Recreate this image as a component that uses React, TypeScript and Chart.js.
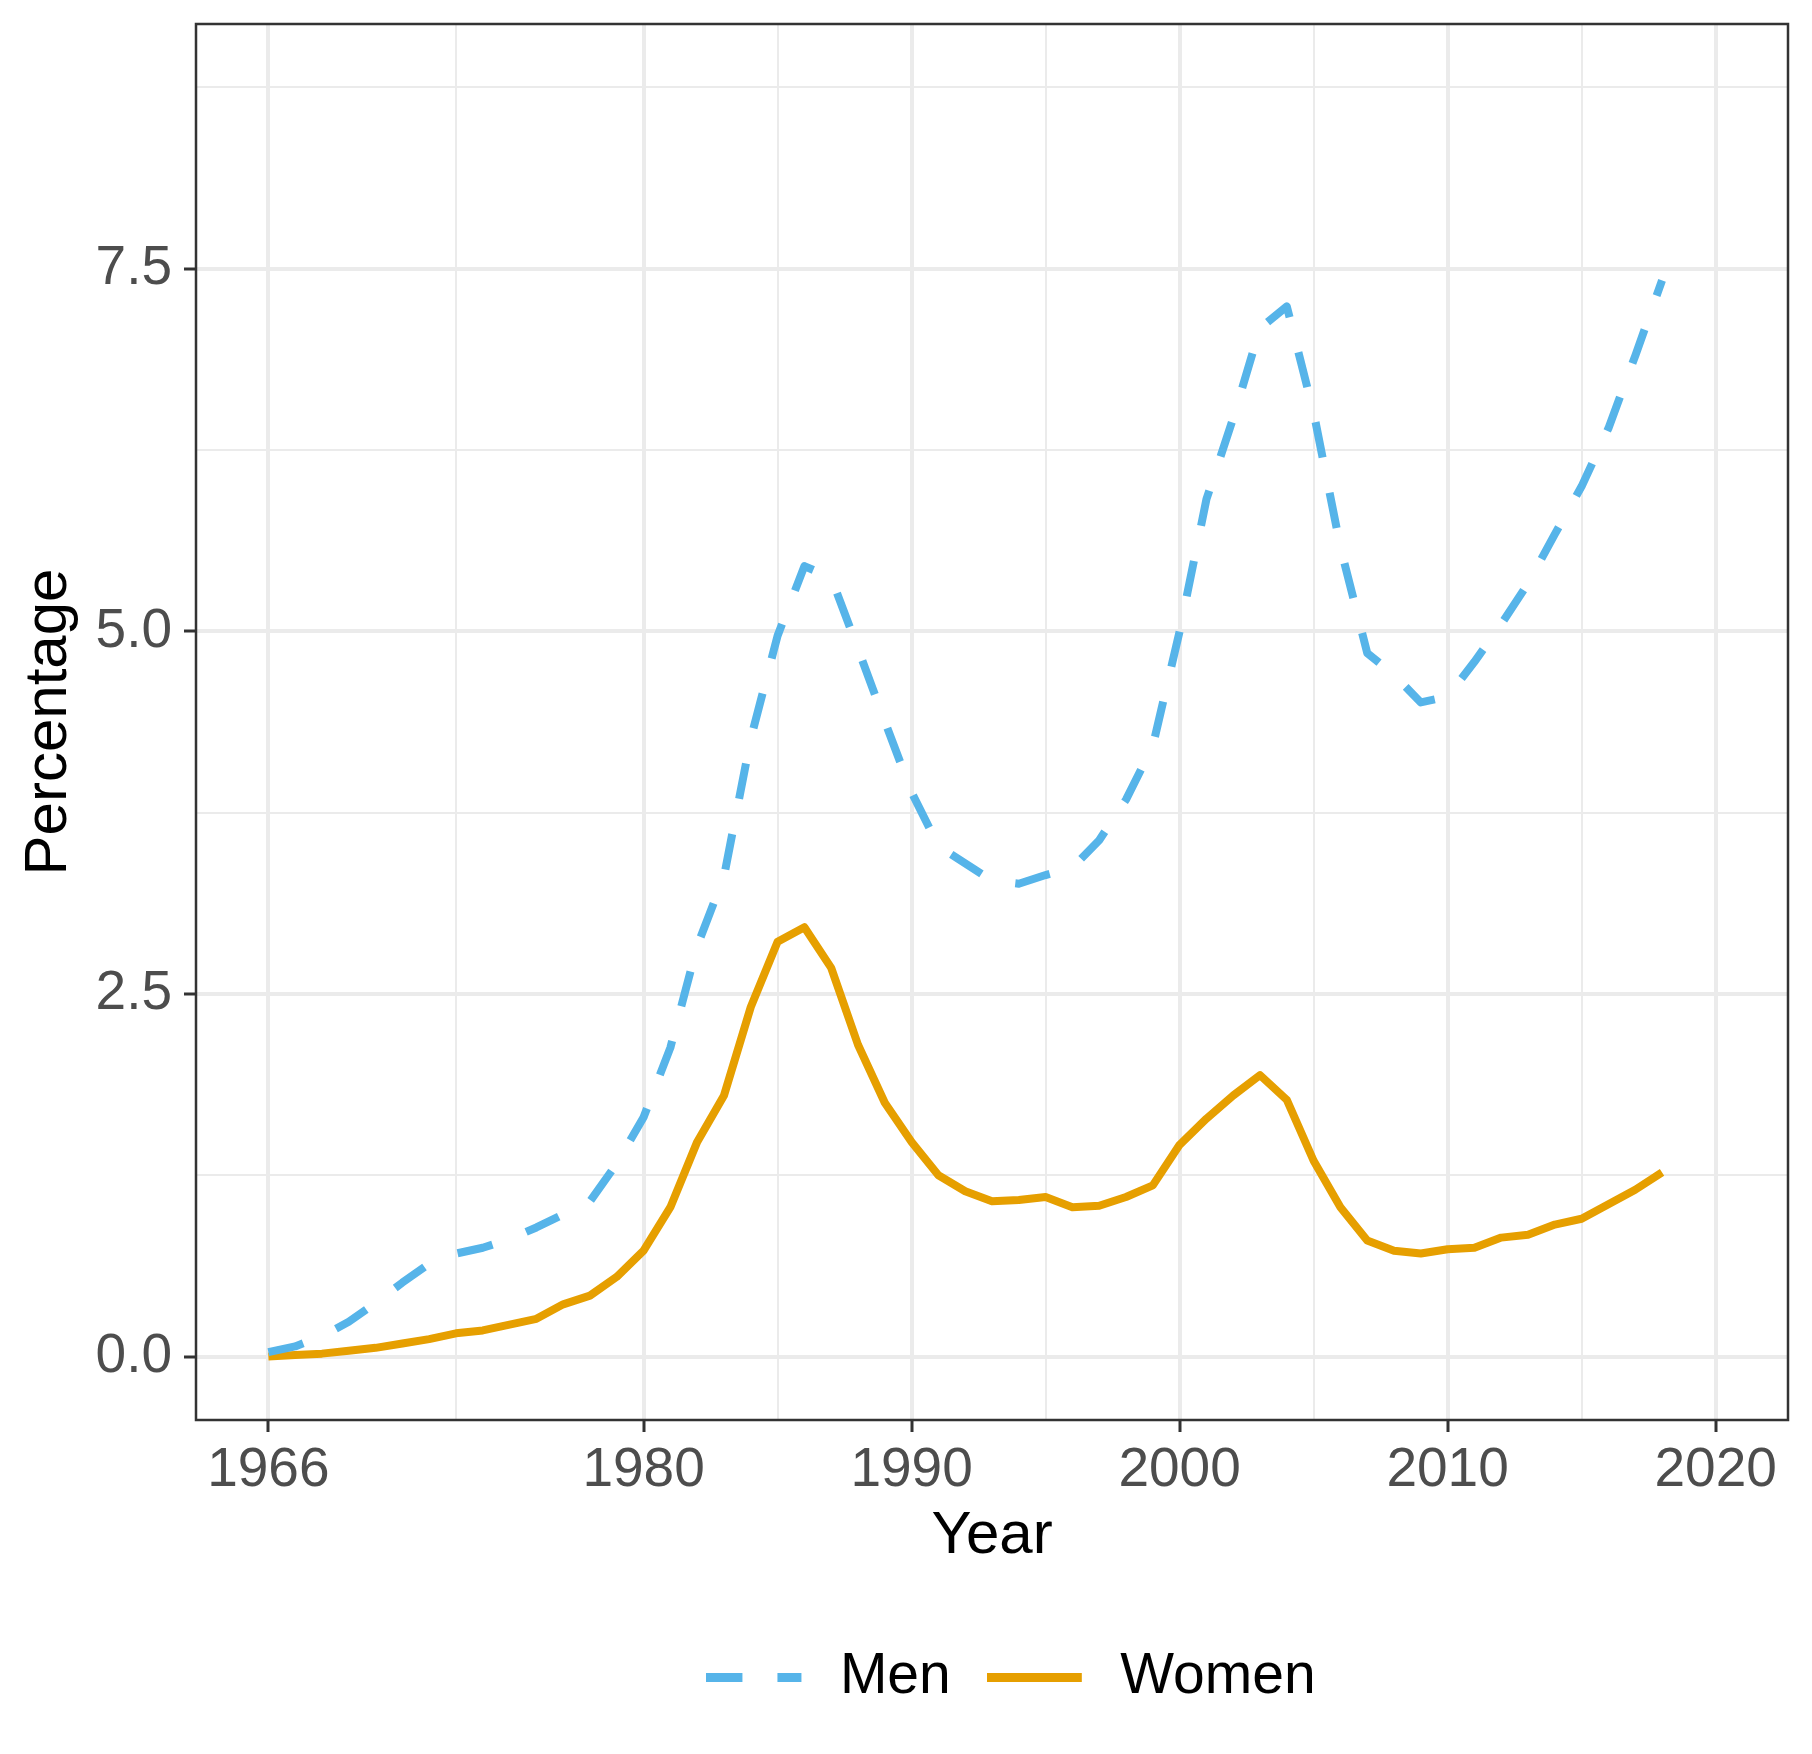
import { useEffect, useRef } from 'react';
import { Chart, registerables, type ChartConfiguration, type Plugin } from 'chart.js';

Chart.register(...registerables);

const years = [
  1966, 1967, 1968, 1969, 1970, 1971, 1972, 1973, 1974, 1975,
  1976, 1977, 1978, 1979, 1980, 1981, 1982, 1983, 1984, 1985,
  1986, 1987, 1988, 1989, 1990, 1991, 1992, 1993, 1994, 1995,
  1996, 1997, 1998, 1999, 2000, 2001, 2002, 2003, 2004, 2005,
  2006, 2007, 2008, 2009, 2010, 2011, 2012, 2013, 2014, 2015,
  2016, 2017, 2018,
];

const men = [
  0.03, 0.07, 0.14, 0.24, 0.37, 0.51, 0.64, 0.71, 0.75, 0.81,
  0.89, 0.98, 1.07, 1.33, 1.65, 2.13, 2.83, 3.31, 4.26, 4.97,
  5.45, 5.37, 4.88, 4.38, 3.89, 3.52, 3.40, 3.28, 3.26, 3.32,
  3.37, 3.56, 3.84, 4.21, 5.00, 5.91, 6.47, 7.09, 7.24, 6.51,
  5.58, 4.85, 4.70, 4.51, 4.55, 4.79, 5.05, 5.33, 5.67, 6.00,
  6.40, 6.90, 7.42,
];

const women = [
  0.00, 0.01, 0.02, 0.04, 0.06, 0.09, 0.12, 0.16, 0.18, 0.22,
  0.26, 0.36, 0.42, 0.55, 0.73, 1.03, 1.48, 1.80, 2.41, 2.86,
  2.96, 2.68, 2.15, 1.75, 1.48, 1.25, 1.14, 1.07, 1.08, 1.10,
  1.03, 1.04, 1.10, 1.18, 1.46, 1.64, 1.80, 1.94, 1.77, 1.35,
  1.03, 0.80, 0.73, 0.71, 0.74, 0.75, 0.82, 0.84, 0.91, 0.95,
  1.05, 1.15, 1.27,
];

// major breaks get a label, minor ones only a thin grid line
const xMajor = [1966, 1980, 1990, 2000, 2010, 2020];
const xMinor = [1973, 1985, 1995, 2005, 2015];
const yMajor = [0, 2.5, 5, 7.5];
const yMinor = [1.25, 3.75, 6.25, 8.75];

const FONT = "'Liberation Sans', Arial, Helvetica, sans-serif";
const MEN_COLOR = '#56B4E9';
const WOMEN_COLOR = '#E69F00';
const DASH = [36, 36];

const KEY_LEN = 95;
const KEY_BOX = 105; // key plus a bit of extra space before the label

// legend key drawn as a little line image (chart.js ignores dashes for 'line' point styles)
function legendKey(color: string, dash: number[]) {
  const c = document.createElement('canvas');
  c.width = KEY_BOX;
  c.height = 9;
  const ctx = c.getContext('2d');
  if (ctx) {
    ctx.strokeStyle = color;
    ctx.lineWidth = 9;
    ctx.setLineDash(dash);
    ctx.beginPath();
    ctx.moveTo(0, 4.5);
    ctx.lineTo(KEY_LEN, 4.5);
    ctx.stroke();
  }
  return c;
}

const panelBorder: Plugin<'line'> = {
  id: 'panelBorder',
  afterLayout(chart) {
    // nudge the legend row to where ggplot put it
    if (chart.legend) {
      chart.legend.left += 19;
      chart.legend.right += 19;
    }
  },
  afterDatasetsDraw(chart) {
    const { ctx, chartArea } = chart;
    ctx.save();
    ctx.strokeStyle = '#333333';
    ctx.lineWidth = 2.5;
    ctx.strokeRect(chartArea.left, chartArea.top, chartArea.right - chartArea.left, chartArea.bottom - chartArea.top);
    ctx.restore();
  },
};

const isMinor = (list: number[], v: number) => list.some((m) => Math.abs(m - v) < 1e-6);

export default function App() {
  const canvasRef = useRef<HTMLCanvasElement | null>(null);

  useEffect(() => {
    if (!canvasRef.current) return;

    const config: ChartConfiguration<'line'> = {
      type: 'line',
      data: {
        datasets: [
          {
            label: 'Men',
            data: years.map((x, i) => ({ x, y: men[i] })),
            borderColor: MEN_COLOR,
            backgroundColor: MEN_COLOR,
            borderWidth: 8,
            borderDash: DASH,
            borderJoinStyle: 'round',
            pointRadius: 0,
            pointStyle: legendKey(MEN_COLOR, [36, 35]),
            tension: 0,
          },
          {
            label: 'Women',
            data: years.map((x, i) => ({ x, y: women[i] })),
            borderColor: WOMEN_COLOR,
            backgroundColor: WOMEN_COLOR,
            borderWidth: 8,
            borderJoinStyle: 'round',
            pointRadius: 0,
            pointStyle: legendKey(WOMEN_COLOR, []),
            tension: 0,
          },
        ],
      },
      options: {
        animation: false,
        responsive: true,
        maintainAspectRatio: false,
        devicePixelRatio: 1,
        layout: { padding: { top: 24, right: 24, left: 0, bottom: 38 } },
        plugins: {
          tooltip: { enabled: false },
          legend: {
            position: 'bottom',
            fullSize: false,
            labels: {
              usePointStyle: true,
              pointStyleWidth: KEY_BOX,
              padding: 36,
              color: '#000000',
              font: { family: FONT, size: 57 },
            },
          },
        },
        scales: {
          x: {
            type: 'linear',
            min: 1963.3,
            max: 2022.7,
            afterBuildTicks(scale) {
              scale.ticks = [...xMajor, ...xMinor].sort((a, b) => a - b).map((value) => ({ value }));
            },
            afterFit(scale) {
              scale.height = 193;
              scale.paddingLeft = 0;
              scale.paddingRight = 0;
            },
            ticks: {
              autoSkip: false,
              maxRotation: 0,
              padding: 6,
              color: '#4D4D4D',
              font: { family: FONT, size: 55 },
              callback: (v) => (isMinor(xMinor, Number(v)) ? '' : String(v)),
            },
            grid: {
              color: '#EBEBEB',
              lineWidth: (ctx) => (ctx.tick && isMinor(xMinor, ctx.tick.value) ? 2 : 4),
              tickColor: (ctx) => (ctx.tick && isMinor(xMinor, ctx.tick.value) ? 'rgba(0,0,0,0)' : '#333333'),
              tickLength: 12,
              tickWidth: 3,
            },
            border: { display: false },
            title: {
              display: true,
              text: 'Year',
              color: '#000000',
              font: { family: FONT, size: 60, lineHeight: 1 },
              padding: { top: 0, bottom: 47 },
            },
          },
          y: {
            min: -0.4375,
            max: 9.1875,
            afterBuildTicks(scale) {
              scale.ticks = [...yMajor, ...yMinor].sort((a, b) => a - b).map((value) => ({ value }));
            },
            afterFit(scale) {
              scale.width = 196;
              scale.paddingTop = 0;
              scale.paddingBottom = 0;
            },
            ticks: {
              autoSkip: false,
              padding: 12,
              color: '#4D4D4D',
              font: { family: FONT, size: 55 },
              callback: (v) => (isMinor(yMinor, Number(v)) ? '' : Number(v).toFixed(1)),
            },
            grid: {
              color: '#EBEBEB',
              lineWidth: (ctx) => (ctx.tick && isMinor(yMinor, ctx.tick.value) ? 2 : 4),
              tickColor: (ctx) => (ctx.tick && isMinor(yMinor, ctx.tick.value) ? 'rgba(0,0,0,0)' : '#333333'),
              tickLength: 12,
              tickWidth: 3,
            },
            border: { display: false },
            title: {
              display: true,
              text: 'Percentage',
              color: '#000000',
              font: { family: FONT, size: 60, lineHeight: 1 },
              padding: { top: 19, bottom: 0 },
            },
          },
        },
      },
      plugins: [panelBorder],
    };

    const chart = new Chart(canvasRef.current, config);

    return () => {
      chart.destroy();
    };
  }, []);

  return (
    <div style={{ position: 'absolute', left: 0, top: 0, width: 1812, height: 1754, background: '#ffffff' }}>
      <canvas ref={canvasRef} />
    </div>
  );
}
